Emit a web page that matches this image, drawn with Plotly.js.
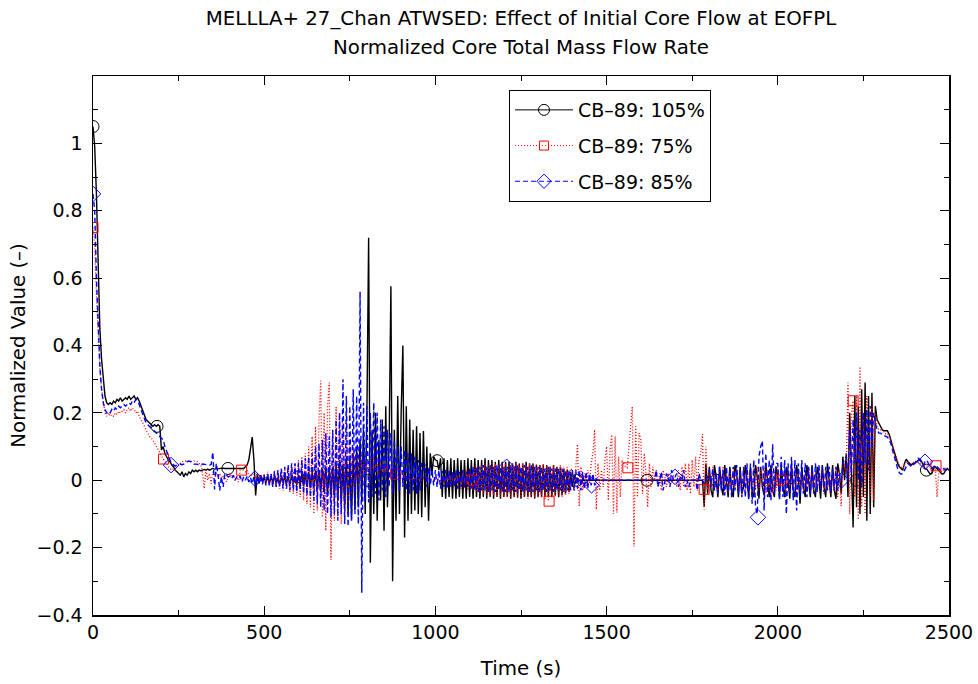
<!DOCTYPE html>
<html>
<head>
<meta charset="utf-8">
<script src="https://cdn.plot.ly/plotly-3.0.1.min.js"></script>
<style>html,body{margin:0;padding:0;background:#fff;}#chart{width:978px;height:684px;}</style>
</head>
<body>
<div id="chart"></div>
<script>
// Time grid of the simulation output: first sample and sample spacing (s)
const T_START = 0;
const T_STEP = 5;

// CB-89: 105% initial core flow (normalized core total mass flow rate)
const flow105 = [
  1.05,0.99,0.85,0.62,0.45,0.36,0.29,0.25,0.23,0.225,0.23,0.225,0.235,0.23,0.24,0.235,0.245,0.235,0.24,0.245,
  0.24,0.25,0.24,0.245,0.25,0.24,0.245,0.235,0.22,0.205,0.19,0.18,0.175,0.17,0.165,0.16,0.165,0.16,0.165,0.16,
  0.09,0.1,0.08,0.07,0.06,0.055,0.045,0.04,0.03,0.025,0.02,0.015,0.025,0.01,0.02,0.015,0.025,0.02,0.03,0.025,
  0.03,0.025,0.03,0.028,0.03,0.032,0.03,0.033,0.03,0.032,0.035,0.033,0.034,0.035,0.034,0.035,0.036,0.035,0.036,0.035,
  0.035,0.035,0.036,0.034,0.035,0.036,0.035,0.036,0.035,0.04,0.045,0.06,0.09,0.128,0.06,-0.045,0.02,-0.01,0.015,-0.005,
  0.01,-0.008,0.012,-0.01,0.01,-0.005,0.012,-0.01,0.008,-0.012,0.01,-0.008,0.012,-0.01,0.01,-0.012,0.014,-0.01,0.012,-0.014,
  0.015,-0.015,0.02,-0.018,0.02,-0.02,0.025,-0.022,0.025,-0.025,0.03,-0.03,0.03,-0.035,0.035,-0.03,0.04,-0.04,0.035,-0.045,
  0.04,-0.05,0.05,-0.06,0.06,-0.07,0.05,-0.08,0.07,-0.1,0.06,-0.116,0.08,-0.09,0.1,-0.08,0.12,-0.06,0.15,-0.1,
  0.2,0.72,-0.245,0.15,-0.1,0.2,-0.12,0.12,-0.06,0.18,-0.15,0.22,-0.08,0.12,0.576,-0.3,0.15,-0.12,0.25,-0.1,
  0.2,0.4,-0.17,0.22,-0.12,0.18,-0.1,0.15,-0.09,0.16,-0.1,0.14,-0.11,0.146,-0.08,0.1,-0.12,0.08,0.02,0.07,
  0.06,0.058,0.03,0.065,-0.05,0.065,-0.055,0.06,-0.05,0.065,-0.055,0.06,-0.055,0.065,-0.05,0.06,-0.055,0.06,-0.055,0.065,
  -0.05,0.06,-0.055,0.065,-0.05,0.06,-0.055,0.06,-0.05,0.065,-0.055,0.06,-0.05,0.06,-0.055,0.055,-0.05,0.06,-0.055,0.055,
  -0.05,0.055,-0.05,0.055,-0.055,0.05,-0.05,0.055,-0.05,0.05,-0.055,0.05,-0.05,0.055,-0.05,0.05,-0.05,0.05,-0.055,0.045,
  -0.05,0.045,-0.05,0.045,-0.05,0.045,-0.05,0.04,-0.05,0.045,-0.045,0.04,-0.05,0.04,-0.045,0.035,-0.04,0.03,-0.035,0.025,
  -0.02,0.015,-0.01,0.005,0,0,0,0,0,0,0,0,0,0,0,0,0,0,0,0,
  0,0,0,0,0,0,0,0,0,0,0,0,0,0,0,0,0,0,0,0,
  0,0,0,0,0,0,0,0,0,0,0,0,0,0,0,0,0,0,0,0,
  0,0,0,0,0,0,0,0,0,0,0,0,0,0,0,0,0,-0.078,0.05,-0.04,
  0.04,-0.03,-0.05,0.045,0.01,-0.05,0.04,-0.02,-0.045,0.045,0.0,-0.05,0.04,-0.03,-0.05,0.045,0.02,-0.05,0.04,-0.04,
  -0.02,0.045,0.0,-0.05,0.04,-0.035,-0.05,0.045,0.01,-0.055,0.04,-0.02,-0.045,0.05,0.0,-0.05,0.045,-0.03,-0.05,0.04,
  0.01,-0.05,0.045,-0.02,-0.05,0.04,0.0,-0.055,0.045,-0.03,-0.05,0.045,0.01,-0.07,0.04,-0.02,-0.05,0.045,0.0,-0.05,
  0.045,-0.03,-0.05,0.04,0.01,-0.055,0.045,-0.02,-0.05,0.05,0.0,-0.05,0.045,-0.03,-0.055,0.05,0.02,-0.04,0.07,0.0,
  0.08,-0.05,0.2,0.05,-0.14,0.25,-0.08,0.22,-0.1,0.27,-0.05,0.29,-0.12,0.25,-0.1,0.26,-0.08,0.22,0.18,0.17,
  0.16,0.15,0.147,0.148,0.147,0.137,0.12,0.1,0.08,0.063,0.05,0.04,0.035,0.03,0.05,0.063,0.055,0.05,0.045,0.05,
  0.05,0.055,0.06,0.063,0.055,0.045,0.035,0.033,0.025,0.018,0.02,0.035,0.04,0.035,0.03,0.025,0.018,0.02,0.03,0.035,
  0.03
];

// CB-89: 75% initial core flow
const flow75 = [
  0.75,0.7,0.55,0.42,0.33,0.27,0.23,0.2,0.19,0.2,0.19,0.195,0.19,0.2,0.195,0.205,0.2,0.205,0.21,0.2,
  0.21,0.215,0.205,0.215,0.21,0.2,0.205,0.19,0.18,0.17,0.16,0.15,0.14,0.13,0.125,0.12,0.11,0.1,0.09,0.08,
  0.07,0.063,0.055,0.05,0.04,0.035,0.03,0.035,0.03,0.04,0.045,0.05,0.055,0.055,0.057,0.055,0.057,0.056,0.055,0.057,
  0.056,0.055,0.05,0.045,0.02,-0.025,0.03,0.0,0.02,-0.01,0.025,0.015,0.02,0.01,0.02,0.005,0.015,0.01,-0.005,0.01,
  0.02,0.01,0.015,0.0,0.01,-0.005,0.03,0.03,0.03,0.025,0.03,0.015,0.01,0.02,0.015,0.005,0.02,0.01,0.015,0.005,
  0.02,-0.01,0.025,-0.015,0.02,-0.02,0.03,-0.02,0.025,-0.025,0.03,-0.03,0.035,-0.025,0.04,-0.035,0.035,-0.04,0.05,-0.045,
  0.06,-0.05,0.07,-0.06,0.08,-0.07,0.1,-0.08,0.13,-0.1,0.16,-0.09,0.18,0.295,-0.11,0.2,-0.15,0.22,0.29,-0.236,
  0.15,-0.12,0.218,-0.1,0.2,-0.13,0.17,-0.12,0.2,-0.08,0.12,-0.05,0.1,-0.04,0.08,-0.02,0.07,0.0,0.06,0.02,
  0.05,0.02,0.06,0.01,0.07,0.03,0.05,0.02,0.06,0.01,0.04,0.02,0.05,0.01,0.03,0.02,0.025,0.018,0.015,0.01,
  0.01,0.005,0.01,0.0,0.005,0.0,0.005,-0.005,0.005,0.0,0.005,0.0,0.0,0.005,0.0,0.0,0.005,0.0,0.0,0.0,
  0.005,-0.005,0.01,-0.01,0.01,-0.01,0.015,-0.015,0.015,-0.015,0.02,-0.02,0.02,-0.02,0.025,-0.025,0.03,-0.025,0.03,-0.03,
  0.035,0.0,-0.03,0.04,-0.035,0.04,-0.04,0.045,-0.04,0.05,-0.045,0.045,-0.05,0.05,-0.045,0.05,-0.05,0.045,-0.05,0.05,
  -0.045,0.05,-0.05,0.045,-0.05,0.05,-0.045,0.05,-0.055,0.045,-0.05,0.05,-0.05,0.045,-0.055,0.05,-0.05,0.045,-0.05,0.05,
  -0.05,0.045,-0.05,0.05,-0.055,0.045,-0.062,0.04,-0.05,0.045,-0.05,0.04,-0.045,0.045,-0.05,0.04,-0.045,0.04,-0.04,0.035,
  0.03,-0.03,0.05,0.107,-0.077,0.04,-0.03,0.02,-0.02,0.03,-0.01,0.05,0.08,0.15,-0.087,0.05,-0.03,0.03,-0.02,0.06,
  0.1,-0.06,0.09,0.135,-0.1,0.13,-0.096,0.07,-0.05,0.06,0.05,0.04,0.037,0.1,0.18,0.218,-0.197,0.16,-0.05,0.14,
  0.12,-0.04,0.08,0.02,-0.08,0.05,-0.02,0.04,0.0,0.03,-0.02,0.02,-0.03,0.03,0.01,-0.02,0.02,0.0,-0.01,0.015,
  0.01,-0.02,0.03,-0.03,0.04,-0.02,0.05,-0.03,0.05,-0.04,0.06,-0.02,0.07,-0.03,0.06,0.08,0.137,-0.087,0.1,-0.027,
  0.03,-0.02,0.04,-0.03,0.02,-0.04,0.03,-0.02,0.04,-0.03,0.03,-0.04,0.02,-0.03,0.04,-0.02,0.03,-0.03,0.02,-0.04,
  0.03,-0.03,0.04,-0.02,0.03,-0.04,0.02,-0.03,0.04,-0.03,0.03,-0.02,0.04,-0.04,0.03,-0.03,0.02,-0.04,0.03,-0.03,
  0.04,-0.02,0.0,-0.03,0.03,-0.04,0.02,-0.03,0.04,-0.02,0.03,-0.04,0.03,-0.03,0.02,-0.04,0.03,-0.02,0.04,-0.03,
  0.03,-0.04,0.02,-0.03,0.04,-0.02,0.03,-0.04,0.03,-0.03,0.02,-0.04,0.03,-0.03,0.04,-0.05,0.03,-0.077,0.04,0.05,
  0.02,0.29,-0.1,0.2,0.236,-0.05,0.25,-0.117,0.337,-0.08,0.2,-0.1,0.25,0.113,-0.05,0.22,-0.06,0.2,0.16,0.15,
  0.15,0.145,0.14,0.138,0.14,0.13,0.115,0.1,0.085,0.07,0.058,0.045,0.04,0.035,0.045,0.055,0.05,0.048,0.05,0.052,
  0.055,0.05,0.055,0.05,0.045,0.04,0.045,0.042,0.04,0.04,0.038,0.035,0.04,-0.05,0.02,0.03,0.025,0.03,0.035,0.03,
  0.03
];

// CB-89: 85% initial core flow
const flow85 = [
  0.85,0.8,0.6,0.45,0.34,0.27,0.23,0.21,0.2,0.205,0.2,0.21,0.205,0.215,0.21,0.22,0.215,0.22,0.225,0.22,
  0.225,0.23,0.225,0.235,0.23,0.24,0.235,0.225,0.21,0.195,0.18,0.17,0.165,0.16,0.155,0.15,0.145,0.14,0.135,0.13,
  0.125,0.12,0.1,0.085,0.07,0.06,0.05,0.045,0.042,0.045,0.047,0.048,0.046,0.048,0.05,0.055,0.057,0.055,0.05,0.048,
  0.048,0.047,0.048,0.046,0.048,0.047,0.048,0.046,0.045,0.047,0.083,-0.027,0.05,0.02,-0.03,0.01,-0.02,0.02,0.015,0.01,
  0.012,0.005,0.015,0.0,0.01,0.005,0.012,-0.005,0.01,0.0,0.012,-0.005,0.008,-0.01,0.01,-0.015,0.012,-0.01,0.015,-0.012,
  0.015,-0.015,0.02,-0.015,0.02,-0.02,0.025,-0.02,0.03,-0.02,0.035,-0.025,0.04,-0.025,0.045,-0.03,0.05,-0.03,0.05,-0.035,
  0.05,-0.03,0.06,-0.04,0.065,-0.045,0.07,-0.05,0.08,-0.06,0.1,-0.07,0.11,-0.08,0.12,-0.09,0.14,-0.1,0.13,-0.11,
  0.15,-0.1,0.18,-0.12,0.2,-0.1,0.3,-0.13,0.25,-0.137,0.22,-0.12,0.27,-0.1,0.25,-0.13,0.56,-0.334,0.23,-0.06,
  0.22,-0.066,0.2,-0.05,0.23,-0.04,0.2,-0.06,0.18,-0.03,0.16,-0.05,0.15,-0.02,0.14,-0.04,0.12,0.0,0.1,-0.03,
  0.1,-0.02,0.09,-0.03,0.08,-0.04,0.08,-0.03,0.07,-0.04,0.06,-0.03,0.05,0.03,0.04,-0.02,0.035,-0.015,0.03,-0.015,
  0.03,-0.02,0.03,-0.025,0.028,-0.02,0.03,-0.025,0.028,-0.02,0.025,-0.02,0.03,-0.025,0.025,-0.02,0.03,-0.02,0.025,-0.02,
  0.035,-0.025,0.04,-0.03,0.04,-0.035,0.04,-0.03,0.045,-0.03,0.04,-0.035,0.045,-0.03,0.04,-0.035,0.045,-0.03,0.04,-0.035,
  0.04,-0.035,0.04,-0.035,0.045,-0.03,0.04,-0.035,0.045,-0.03,0.04,-0.035,0.045,-0.03,0.04,-0.035,0.045,-0.035,0.04,-0.03,
  0.04,-0.035,0.04,-0.03,0.035,-0.035,0.04,-0.03,0.035,-0.035,0.035,-0.03,0.035,-0.03,0.035,-0.035,0.03,-0.03,0.03,-0.03,
  0.03,-0.03,0.03,-0.025,0.03,-0.03,0.025,-0.025,0.025,-0.025,0.02,-0.015,0.02,-0.015,0.005,0.0,0.0,0.0,0.0,0.0,
  0,0,0,0,0,0,0,0,0,0,0,0,0,0,0,0,0,0,0,0,
  0,0,0,0,0,0,0,0,0,0.03,-0.02,0.0,0.025,-0.03,0.0,0.02,0.01,-0.02,0.03,0.0,
  0.01,0.02,-0.02,0.01,0.0,0.03,-0.02,0.0,-0.02,0.0,0.0,0.0,0.0,-0.03,0.02,0.0,0.0,-0.01,0.0,0.01,
  0.03,-0.02,0.035,-0.03,0.02,-0.04,0.04,-0.03,0.03,-0.045,0.04,-0.035,0.035,-0.05,0.04,-0.03,0.045,-0.04,0.03,-0.05,
  0.04,-0.05,0.05,-0.06,0.05,-0.07,0.06,-0.08,-0.1,0.07,0.1,0.117,-0.09,0.08,-0.05,0.06,-0.06,0.107,-0.04,0.05,
  0.05,-0.06,0.07,-0.05,0.06,-0.1,0.05,-0.04,0.07,-0.06,0.06,-0.09,0.05,-0.05,0.06,-0.04,0.05,-0.05,0.04,-0.04,
  0.04,-0.04,0.05,-0.035,0.045,-0.03,0.04,-0.035,0.04,-0.03,0.04,-0.035,0.035,-0.03,0.04,-0.03,0.02,0.0,0.05,0.06,
  0.07,0.0,0.15,0.02,0.18,0.05,0.2,0.0,0.15,-0.02,0.2,0.05,0.21,0.03,0.22,0.1,0.2,0.17,0.15,0.14,
  0.14,0.135,0.132,0.13,0.128,0.12,0.11,0.09,0.07,0.05,0.035,0.022,0.018,0.02,0.03,0.04,0.05,0.045,0.04,0.045,
  0.05,0.06,0.065,0.06,0.05,0.045,0.055,0.06,0.05,0.04,0.035,0.04,0.045,0.04,0.035,0.03,0.03,0.035,0.03,0.03,
  0.03
];

// Sparse symbol positions (every Nth output point)
const mark105T = [0,187,394,598,802,1005,1209,1413,1618,1820,2026,2230,2434];
const mark105V = [1.05,0.16,0.035,0.01,0.0,0.058,0.0,0.0,0.0,0.0,0.0,0.0,0.03];
const mark75T = [0,206,434,659,884,1107,1332,1562,1785,2010,2220,2462];
const mark75V = [0.75,0.063,0.03,0.0,0.018,0.0,-0.062,0.037,-0.027,0.0,0.236,0.043];
const mark85T = [0,228,473,718,963,1208,1456,1700,1942,2186,2430];
const mark85V = [0.85,0.045,0.005,0.0,0.03,0.04,-0.015,0.01,-0.11,0.0,0.055];

const seriesNames = ['CB\u201389: 105%','CB\u201389: 75%','CB\u201389: 85%'];
const xTicks = [0,500,1000,1500,2000,2500];
const xMinor = [250,750,1250,1750,2250];
const yTicks = [-0.4,-0.2,0,0.2,0.4,0.6,0.8,1];
const yMinor = [-0.3,-0.1,0.1,0.3,0.5,0.7,0.9,1.1];

const styles = [
  {color:'#000000', dash:'solid', width:1.4, symbol:'circle-open', size:12},
  {color:'#ff0000', dash:'1px,2px', width:1.3, symbol:'square-open', size:10},
  {color:'#0000ff', dash:'5px,3px', width:1.4, symbol:'diamond-open', size:12}
];
const values = [flow105, flow75, flow85];
const markT = [mark105T, mark75T, mark85T];
const markV = [mark105V, mark75V, mark85V];

const traces = [];
for (let i = 0; i < 3; i++) {
  const s = styles[i];
  traces.push({
    type:'scatter', mode:'lines', x0:T_START, dx:T_STEP, y:values[i],
    line:{color:s.color, width:s.width, dash:s.dash}, showlegend:false, hoverinfo:'skip'
  });
  traces.push({
    type:'scatter', mode:'markers', x:markT[i], y:markV[i],
    marker:{symbol:s.symbol, size:s.size, color:s.color, line:{color:s.color, width:1}},
    showlegend:false, hoverinfo:'skip'
  });
}
// legend entries
for (let i = 0; i < 3; i++) {
  const s = styles[i];
  traces.push({
    type:'scatter', mode:'lines+markers', x:[null], y:[null], name:seriesNames[i],
    legendgroup:'g'+i,
    line:{color:s.color, width:1, dash:s.dash},
    marker:{symbol:s.symbol, size:s.size-1, color:s.color, line:{color:s.color, width:1}}
  });
}

const FONT = 'DejaVu Sans, Verdana, sans-serif';
const layout = {
  width:978, height:684,
  margin:{l:93, r:29, t:76, b:69},
  paper_bgcolor:'#ffffff', plot_bgcolor:'#ffffff',
  font:{family:FONT, color:'#000', size:19},
  title:{
    text:'MELLLA+ 27_Chan ATWSED: Effect of Initial Core Flow at EOFPL',
    font:{family:FONT, size:19.8, color:'#000'},
    x:0.5, xref:'paper', xanchor:'center', y:0.9737, yref:'container', yanchor:'middle'
  },
  annotations:[{
    text:'Normalized Core Total Mass Flow Rate', showarrow:false,
    xref:'paper', yref:'paper', x:0.5, y:1.0538, xanchor:'center', yanchor:'middle',
    font:{family:FONT, size:19.8, color:'#000'}
  }],
  xaxis:{
    range:[0,2500], tickvals:xTicks, ticks:'inside', ticklen:9, tickwidth:1, tickcolor:'#000',
    showline:true, linecolor:'#000', linewidth:1.5, mirror:'allticks',
    showgrid:false, zeroline:false, tickfont:{size:19},
    minor:{tickvals:xMinor, ticks:'inside', ticklen:5, tickcolor:'#000', tickwidth:1, showgrid:false},
    title:{text:'Time (s)', font:{size:19.8}, standoff:19}
  },
  yaxis:{
    range:[-0.4,1.2], tickvals:yTicks, ticks:'inside', ticklen:9, tickwidth:1, tickcolor:'#000',
    showline:true, linecolor:'#000', linewidth:1.5, mirror:'allticks',
    showgrid:false, zeroline:false, tickfont:{size:19}, ticklabelstandoff:5,
    minor:{tickvals:yMinor, ticks:'inside', ticklen:5, tickcolor:'#000', tickwidth:1, showgrid:false},
    title:{text:'Normalized Value (\u2013)', font:{size:19.8}, standoff:5}
  },
  legend:{
    x:0.486, y:0.974, xanchor:'left', yanchor:'top',
    bordercolor:'#000', borderwidth:1, bgcolor:'#ffffff',
    font:{family:FONT, size:19, color:'#000'},
    traceorder:'grouped', tracegroupgap:8, itemwidth:58
  },
  showlegend:true
};

Plotly.newPlot('chart', traces, layout, {staticPlot:true, displayModeBar:false});
</script>
</body>
</html>
